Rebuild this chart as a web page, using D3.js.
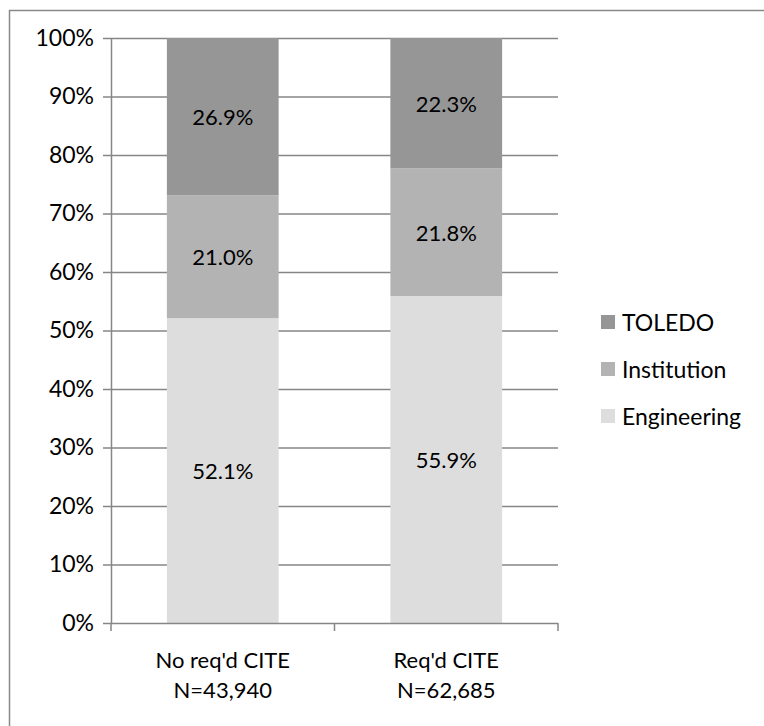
<!DOCTYPE html>
<html><head><meta charset="utf-8">
<script src="https://cdn.jsdelivr.net/npm/d3@7"></script>
<style>body{margin:0;background:#fff}svg{display:block}text{font-family:Lato,"Open Sans",sans-serif;fill:#000}</style>
</head><body>
<script>
const categories = ["No req'd CITE\nN=43,940", "Req'd CITE\nN=62,685"];
const seriesNames = ["Engineering", "Institution", "TOLEDO"];
const engineering = [52.1, 55.9];
const institution = [21.0, 21.8];
const toledo = [26.9, 22.3];
const yTicks = [0,10,20,30,40,50,60,70,80,90,100];
const colors = {Engineering:"#dddddd", Institution:"#b3b3b3", TOLEDO:"#969696"};

const W=764,H=726,FS=22;
const svg=d3.select("body").append("svg").attr("width",W).attr("height",H);
svg.append("rect").attr("x",9.5).attr("y",10.5).attr("width",800).attr("height",800)
  .attr("fill","none").attr("stroke","#898989").attr("stroke-width",1.5);

const x0=111,x1=558,yTop=38,yBot=623;
const x=d3.scaleBand().domain(categories).range([x0,x1]).paddingInner(0.5).paddingOuter(0.25);
const y=d3.scaleLinear().domain([0,100]).range([yBot,yTop]);

const rows=categories.map((c,i)=>({cat:c,Engineering:engineering[i],Institution:institution[i],TOLEDO:toledo[i]}));
const stack=d3.stack().keys(seriesNames)(rows);

svg.append("g").selectAll("line").data(yTicks.filter(t=>t>0)).join("line")
  .attr("x1",x0).attr("x2",x1).attr("y1",d=>y(d)+0.5).attr("y2",d=>y(d)+0.5)
  .attr("stroke","#868686").attr("stroke-width",1.5);

const g=svg.append("g");
stack.forEach(s=>{
  g.append("g").selectAll("rect").data(s).join("rect")
   .attr("x",d=>x(d.data.cat)).attr("width",x.bandwidth())
   .attr("y",d=>y(d[1])).attr("height",d=>y(d[0])-y(d[1]))
   .attr("fill",colors[s.key]);
  g.append("g").selectAll("text").data(s).join("text")
   .attr("x",d=>x(d.data.cat)+x.bandwidth()/2).attr("y",d=>y((d[0]+d[1])/2))
   .attr("text-anchor","middle").attr("dominant-baseline","central")
   .attr("font-size",FS).text(d=>(d[1]-d[0]).toFixed(1)+"%");
});

const ya=svg.append("g").attr("transform",`translate(${x0},0)`)
 .call(d3.axisLeft(y).tickValues(yTicks).tickFormat(d=>d+"%").tickSizeInner(8).tickSizeOuter(0).tickPadding(9));
ya.select(".domain").attr("stroke","#868686").attr("stroke-width",1.5);
ya.selectAll(".tick line").attr("stroke","#868686").attr("stroke-width",1.5);
ya.selectAll(".tick text").attr("font-size",FS+1).attr("font-family","Lato");

const xa=svg.append("g").attr("transform",`translate(0,${yBot})`);
xa.append("line").attr("x1",x0).attr("x2",x1).attr("y1",0.5).attr("y2",0.5).attr("stroke","#868686").attr("stroke-width",1.5);
const bounds=[x0, x0+(x1-x0)/2, x1];
xa.selectAll("line.t").data(bounds).join("line").attr("class","t")
  .attr("x1",d=>d).attr("x2",d=>d).attr("y1",0).attr("y2",8).attr("stroke","#868686").attr("stroke-width",1.5);
categories.forEach(c=>{
  const t=xa.append("text").attr("text-anchor","middle").attr("font-size",FS);
  c.split("\n").forEach((ln,i)=>t.append("tspan").attr("x",x(c)+x.bandwidth()/2).attr("y",i===0?45:75).text(ln));
});

const leg=svg.append("g");
const legItems=["TOLEDO","Institution","Engineering"];
const legY=[322,369,416];
legItems.forEach((k,i)=>{
  leg.append("rect").attr("x",601).attr("y",legY[i]-7).attr("width",14).attr("height",14).attr("fill",colors[k]);
  leg.append("text").attr("x",622).attr("y",legY[i]).attr("dominant-baseline","central").attr("font-size",FS+1).text(k);
});
</script>
</body></html>
